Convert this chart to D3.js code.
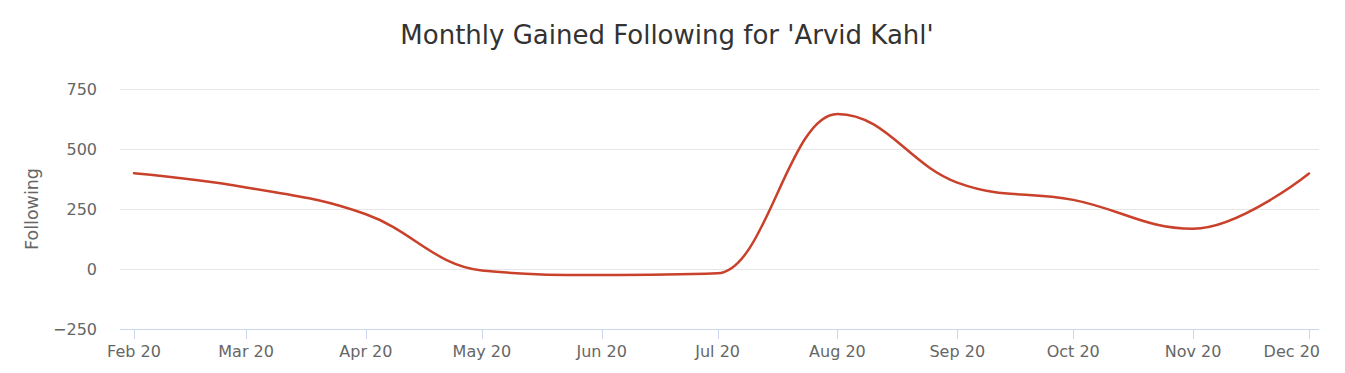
<!DOCTYPE html>
<html>
<head>
<meta charset="utf-8">
<script src="https://cdn.jsdelivr.net/npm/d3@7"></script>
<style>
  html, body { margin: 0; padding: 0; background: #fff; }
  svg { display: block; }
</style>
</head>
<body>
<svg id="chart" width="1345" height="373"></svg>
<script>
const months = ["2020-02-01","2020-03-01","2020-04-01","2020-05-01","2020-06-01","2020-07-01","2020-08-01","2020-09-01","2020-10-01","2020-11-01","2020-12-01"];
const following = [399, 340, 228, -6, -25, -18, 646, 360, 288, 168, 398];
const yTicks = [-250, 0, 250, 500, 750];
const titleText = "Monthly Gained Following for 'Arvid Kahl'";
const yTitle = "Following";

const FONT = "'DejaVu Sans', 'Open Sans', sans-serif";
const svg = d3.select("#chart");
const plotL = 120, plotR = 1319, plotT = 89, plotB = 329;

const dates = months.map(d => new Date(d + "T00:00:00Z"));
const data = dates.map((d, i) => ({date: d, value: following[i]}));

const x = d3.scaleUtc().domain([dates[0], dates[dates.length - 1]]).range([134, 1309]);
const y = d3.scaleLinear().domain([-250, 750]).range([plotB, plotT]);

// Highcharts-like spline curve
function HCSpline(context) { this._context = context; }
HCSpline.prototype = {
  areaStart() { this._line = 0; },
  areaEnd() { this._line = NaN; },
  lineStart() { this._pts = []; },
  point(px, py) { this._pts.push([+px, +py]); },
  lineEnd() {
    const p = this._pts, c = this._context, s = 1.5, den = 2.5;
    if (!p.length) return;
    c.moveTo(p[0][0], p[0][1]);
    let prevRX = null, prevRY = null;
    for (let i = 1; i < p.length; i++) {
      const [px, py] = p[i];
      const last = p[i - 1], next = p[i + 1];
      let lx = px, ly = py, rx = null, ry = null;
      if (next) {
        lx = (s * px + last[0]) / den; ly = (s * py + last[1]) / den;
        rx = (s * px + next[0]) / den; ry = (s * py + next[1]) / den;
        let corr = 0;
        if (rx !== lx) corr = ((ry - ly) * (rx - px)) / (rx - lx) + py - ry;
        ly += corr; ry += corr;
        if (ly > last[1] && ly > py) { ly = Math.max(last[1], py); ry = 2 * py - ly; }
        else if (ly < last[1] && ly < py) { ly = Math.min(last[1], py); ry = 2 * py - ly; }
        if (ry > next[1] && ry > py) { ry = Math.max(next[1], py); ly = 2 * py - ry; }
        else if (ry < next[1] && ry < py) { ry = Math.min(next[1], py); ly = 2 * py - ry; }
      }
      const c1x = prevRX !== null ? prevRX : last[0];
      const c1y = prevRY !== null ? prevRY : last[1];
      c.bezierCurveTo(c1x, c1y, lx, ly, px, py);
      prevRX = rx; prevRY = ry;
    }
  }
};
const curveHC = ctx => new HCSpline(ctx);

// Title
svg.append("text")
  .attr("x", 667).attr("y", 44)
  .attr("text-anchor", "middle")
  .style("font-family", FONT).style("font-size", "26px")
  .attr("fill", "#333333")
  .text(titleText);

// Gridlines
svg.append("g").selectAll("line")
  .data(yTicks.filter(t => t !== -250))
  .join("line")
  .attr("x1", plotL).attr("x2", plotR)
  .attr("y1", d => Math.round(y(d)) + 0.5).attr("y2", d => Math.round(y(d)) + 0.5)
  .attr("stroke", "#e6e6e6").attr("stroke-width", 1);

// Y labels
svg.append("g").selectAll("text")
  .data(yTicks)
  .join("text")
  .attr("x", 97).attr("y", d => y(d) + 6)
  .attr("text-anchor", "end")
  .style("font-family", FONT).style("font-size", "16px")
  .attr("fill", "#666666")
  .text(d => d3.format(",")(d));

// Y title
svg.append("text")
  .attr("transform", `translate(38, ${(plotT + plotB) / 2}) rotate(-90)`)
  .attr("text-anchor", "middle")
  .style("font-family", FONT).style("font-size", "17.5px")
  .attr("fill", "#666666")
  .text(yTitle);

// X axis line
svg.append("line")
  .attr("x1", plotL).attr("x2", plotR)
  .attr("y1", plotB + 0.5).attr("y2", plotB + 0.5)
  .attr("stroke", "#ccd6eb").attr("stroke-width", 1);

// X ticks
const xg = svg.append("g");
xg.selectAll("line")
  .data(dates)
  .join("line")
  .attr("x1", d => Math.round(x(d)) + 0.5).attr("x2", d => Math.round(x(d)) + 0.5)
  .attr("y1", plotB).attr("y2", plotB + 10)
  .attr("stroke", "#ccd6eb").attr("stroke-width", 1);
const fmt = d3.utcFormat("%b %y");
xg.selectAll("text")
  .data(dates)
  .join("text")
  .attr("x", d => x(d)).attr("y", 357)
  .attr("text-anchor", "middle")
  .style("font-family", FONT).style("font-size", "16px")
  .attr("fill", "#666666")
  .text(d => fmt(d))
  .each(function() {
    // keep labels inside the chart edge (like Highcharts overflow: justify)
    const w = this.getComputedTextLength();
    const cx = +this.getAttribute("x");
    const maxRight = 1320;
    if (cx + w / 2 > maxRight) this.setAttribute("x", maxRight - w / 2);
  });

// Line
const line = d3.line().x(d => x(d.date)).y(d => y(d.value)).curve(curveHC);
svg.append("path")
  .datum(data)
  .attr("d", line)
  .attr("fill", "none")
  .attr("stroke", "#c9412a")
  .attr("stroke-width", 2.5)
  .attr("stroke-linejoin", "round")
  .attr("stroke-linecap", "round");
</script>
</body>
</html>
